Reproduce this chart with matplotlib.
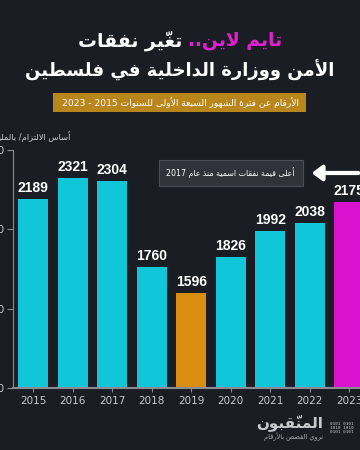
import matplotlib
matplotlib.use("Agg")
import matplotlib.pyplot as plt
from matplotlib.patches import FancyBboxPatch

# البيانات
years = [2015, 2016, 2017, 2018, 2019, 2020, 2021, 2022, 2023]
spending = [2189, 2321, 2304, 1760, 1596, 1826, 1992, 2038, 2175]
bar_colors = ['#12c6da'] * 4 + ['#d98e12'] + ['#12c6da'] * 3 + ['#d812cf']
y_ticks = [1000, 1500, 2000, 2500]

title_pink = "تايم لاين.."
title_white = "تغيّر نفقات"
title_line2 = "الأمن ووزارة الداخلية في فلسطين"
subtitle = "الأرقام عن فترة الشهور السبعة الأولى للسنوات 2015 - 2023"
y_label = "أساس الالتزام/ بالمليون شيكل"
note = "أعلى قيمة نفقات اسمية منذ عام 2017"
logo = "المنقّبون"
logo_sub = "نروي القصص بالأرقام"

BG = '#1b1d25'

# ---- تشكيل الحروف العربية يدويا (لا يوجد arabic_reshaper) ----
FORMS = {
    'ء': (0xFE80,), 'آ': (0xFE81, 0xFE82), 'أ': (0xFE83, 0xFE84),
    'ؤ': (0xFE85, 0xFE86), 'إ': (0xFE87, 0xFE88),
    'ئ': (0xFE89, 0xFE8A, 0xFE8B, 0xFE8C), 'ا': (0xFE8D, 0xFE8E),
    'ب': (0xFE8F, 0xFE90, 0xFE91, 0xFE92), 'ة': (0xFE93, 0xFE94),
    'ت': (0xFE95, 0xFE96, 0xFE97, 0xFE98), 'ث': (0xFE99, 0xFE9A, 0xFE9B, 0xFE9C),
    'ج': (0xFE9D, 0xFE9E, 0xFE9F, 0xFEA0), 'ح': (0xFEA1, 0xFEA2, 0xFEA3, 0xFEA4),
    'خ': (0xFEA5, 0xFEA6, 0xFEA7, 0xFEA8), 'د': (0xFEA9, 0xFEAA),
    'ذ': (0xFEAB, 0xFEAC), 'ر': (0xFEAD, 0xFEAE), 'ز': (0xFEAF, 0xFEB0),
    'س': (0xFEB1, 0xFEB2, 0xFEB3, 0xFEB4), 'ش': (0xFEB5, 0xFEB6, 0xFEB7, 0xFEB8),
    'ص': (0xFEB9, 0xFEBA, 0xFEBB, 0xFEBC), 'ض': (0xFEBD, 0xFEBE, 0xFEBF, 0xFEC0),
    'ط': (0xFEC1, 0xFEC2, 0xFEC3, 0xFEC4), 'ظ': (0xFEC5, 0xFEC6, 0xFEC7, 0xFEC8),
    'ع': (0xFEC9, 0xFECA, 0xFECB, 0xFECC), 'غ': (0xFECD, 0xFECE, 0xFECF, 0xFED0),
    'ف': (0xFED1, 0xFED2, 0xFED3, 0xFED4), 'ق': (0xFED5, 0xFED6, 0xFED7, 0xFED8),
    'ك': (0xFED9, 0xFEDA, 0xFEDB, 0xFEDC), 'ل': (0xFEDD, 0xFEDE, 0xFEDF, 0xFEE0),
    'م': (0xFEE1, 0xFEE2, 0xFEE3, 0xFEE4), 'ن': (0xFEE5, 0xFEE6, 0xFEE7, 0xFEE8),
    'ه': (0xFEE9, 0xFEEA, 0xFEEB, 0xFEEC), 'و': (0xFEED, 0xFEEE),
    'ى': (0xFEEF, 0xFEF0), 'ي': (0xFEF1, 0xFEF2, 0xFEF3, 0xFEF4),
}
LAM_ALEF = {'آ': (0xFEF5, 0xFEF6), 'أ': (0xFEF7, 0xFEF8),
            'إ': (0xFEF9, 0xFEFA), 'ا': (0xFEFB, 0xFEFC)}
MARKS = set('\u064b\u064c\u064d\u064e\u064f\u0650\u0651\u0652')
TATWEEL = 'ـ'


def dual(c):
    return c == TATWEEL or (c in FORMS and len(FORMS[c]) == 4)


def joins(c):
    return c == TATWEEL or (c in FORMS and c != 'ء')


def shape(text):
    # تجميع الحرف مع حركاته
    clusters = []
    for ch in text:
        if ch in MARKS and clusters:
            clusters[-1][1] += ch
        else:
            clusters.append([ch, ''])
    # دمج لام ألف
    merged = []
    i = 0
    while i < len(clusters):
        c, m = clusters[i]
        if c == 'ل' and i + 1 < len(clusters) and clusters[i + 1][0] in LAM_ALEF:
            merged.append(['LA' + clusters[i + 1][0], m + clusters[i + 1][1]])
            i += 2
        else:
            merged.append([c, m])
            i += 1
    out = []
    for i, (c, m) in enumerate(merged):
        prev = merged[i - 1][0] if i > 0 else ''
        nxt = merged[i + 1][0] if i + 1 < len(merged) else ''
        prev_j = dual(prev) if not prev.startswith('LA') else False
        nxt_j = True if nxt.startswith('LA') else joins(nxt)
        if c.startswith('LA'):
            f = LAM_ALEF[c[2]]
            g = chr(f[1] if prev_j else f[0])
        elif c in FORMS:
            f = FORMS[c]
            if len(f) == 1:
                g = chr(f[0])
            elif len(f) == 2:
                g = chr(f[1] if prev_j else f[0])
            else:
                if prev_j and nxt_j:
                    g = chr(f[3])
                elif prev_j:
                    g = chr(f[1])
                elif nxt_j:
                    g = chr(f[2])
                else:
                    g = chr(f[0])
        else:
            g = c
        out.append(g + m)
    # ترتيب من اليمين لليسار مع الإبقاء على الأرقام
    runs = []
    for g in out:
        if g[0].isdigit() and runs and runs[-1][0][0].isdigit():
            runs[-1].append(g)
        else:
            runs.append([g])
    vis = []
    for r in reversed(runs):
        vis.extend(r)
    return ''.join(vis)


AR = ['DejaVu Sans']

fig = plt.figure(figsize=(3.6, 4.5), dpi=100)
fig.patch.set_facecolor(BG)

ax = fig.add_axes([13 / 360, 62 / 450, 356 / 360, 238 / 450])
ax.set_facecolor(BG)
ax.bar(years, spending, width=0.76, color=bar_colors, zorder=2)
for x, v in zip(years, spending):
    ax.text(x, v + 25, str(v), ha='center', va='bottom', color='white',
            fontsize=10, fontweight='bold', family='Liberation Sans')

ax.set_xlim(2014.49, 2023.5)
ax.set_ylim(1000, 2500)
ax.set_yticks(y_ticks)
ax.set_yticklabels([str(t) for t in y_ticks])
ax.set_xticks(years)
ax.tick_params(axis='x', colors='#8a8c92', labelcolor='#c9cacd', labelsize=7.5,
               length=3, pad=3)
ax.tick_params(axis='y', colors='#8a8c92', labelcolor='#c9cacd', labelsize=7.5,
               length=4, pad=2)
for s in ['top', 'right']:
    ax.spines[s].set_visible(False)
ax.spines['left'].set_color('#8a8c92')
ax.spines['bottom'].set_color('#8a8c92')
ax.spines['bottom'].set_linewidth(1.5)

# الملاحظة والسهم
ax.annotate('', xy=(2021.98, 2355), xytext=(2023.3, 2355),
            arrowprops=dict(arrowstyle='-|>,head_length=0.6,head_width=0.45',
                            color='white', lw=3), zorder=5)
fig.text(295 / 360, 1 - 173 / 450, shape(note), ha='right', va='center',
         color='white', fontsize=5.7, family=AR,
         bbox=dict(boxstyle='square,pad=0.95', fc='#30333a', ec='#4c4f57', lw=0.8))

# العناوين: السطر الأول بلونين (الوردي على اليمين)
TS = 13.5
ty1 = 1 - 41 / 450
r = fig.canvas.get_renderer()
t_white = fig.text(0, ty1, shape(title_white) + ' ', ha='left', va='center',
                   color='white', fontsize=TS, fontweight='bold', family=AR)
t_pink = fig.text(0, ty1, shape(title_pink), ha='left', va='center',
                  color='#e21fd0', fontsize=TS, fontweight='bold', family=AR)
ww = t_white.get_window_extent(r).width
pw = t_pink.get_window_extent(r).width
x0 = (360 - ww - pw) / 2
t_white.set_position((x0 / 360, ty1))
t_pink.set_position(((x0 + ww) / 360, ty1))
fig.text(0.5, 1 - 70 / 450, shape(title_line2), ha='center', va='center',
         color='white', fontsize=13, fontweight='bold', family=AR)

box = FancyBboxPatch((53 / 360, 1 - 112 / 450), 253 / 360, 19 / 450,
                     boxstyle='square,pad=0', transform=fig.transFigure,
                     fc='#b8861b', ec='none')
fig.patches.append(box)
fig.text(180 / 360, 1 - 102.5 / 450, shape(subtitle), ha='center', va='center',
         color='white', fontsize=6.6, family=AR)

fig.text(70 / 360, 1 - 137 / 450, shape(y_label), ha='right', va='center',
         color='#d0d1d4', fontsize=6, family=AR)

# الشعار
fig.text(323 / 360, 1 - 423 / 450, shape(logo), ha='right', va='center',
         color='#c9cacd', fontsize=11, fontweight='bold', family=AR)
fig.text(323 / 360, 1 - 437 / 450, shape(logo_sub), ha='right', va='center',
         color='#a9aaae', fontsize=4.8, family=AR)
fig.text(342 / 360, 1 - 428 / 450, '0101 0101\n1010 1010\n0101 0101',
         ha='center', va='center', color='#c9cacd', fontsize=3.2,
         family='DejaVu Sans Mono', linespacing=1.1)

fig.savefig('out.png', dpi=100, facecolor=BG)
